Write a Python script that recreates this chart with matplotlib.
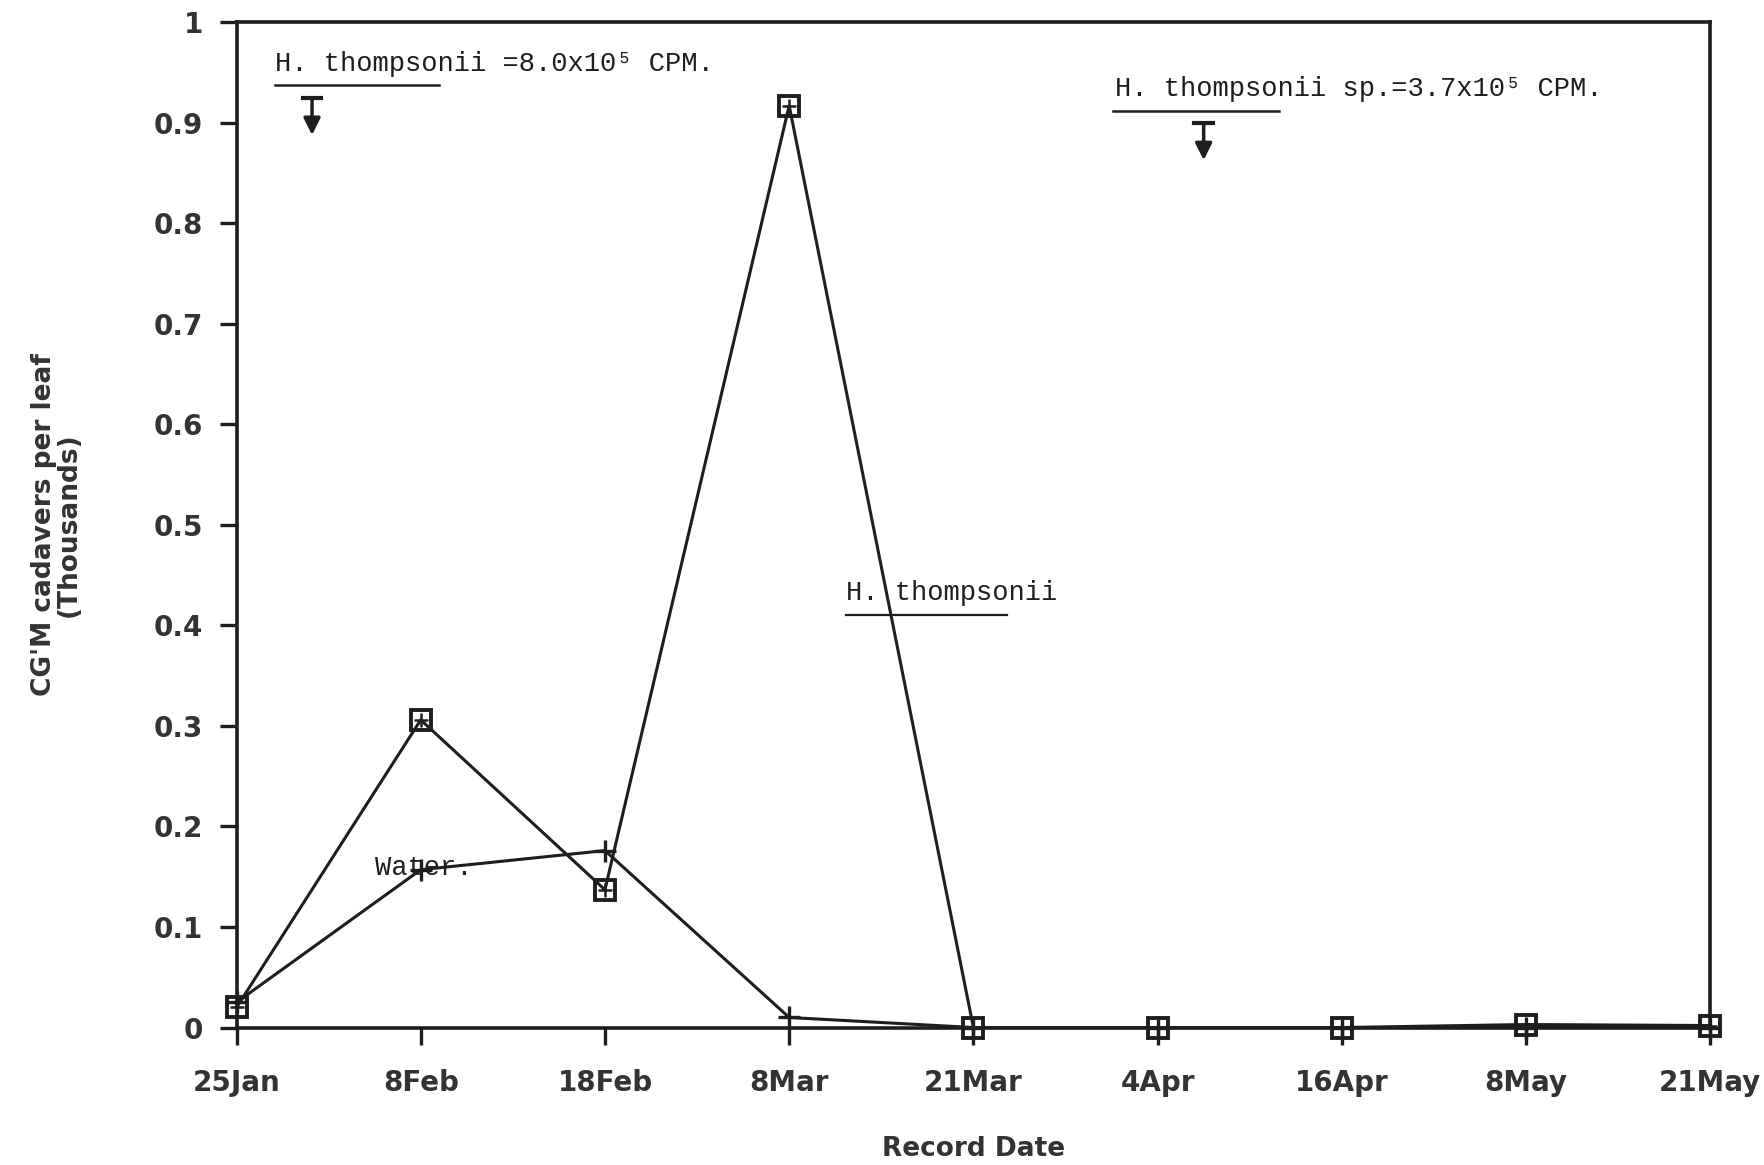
import matplotlib
matplotlib.use('Agg')
import matplotlib.pyplot as plt

# data
dates = ['25Jan', '8Feb', '18Feb', '8Mar', '21Mar', '4Apr', '16Apr', '8May', '21May']
thompsonii = [0.020, 0.306, 0.137, 0.917, 0.000, 0.000, 0.000, 0.003, 0.002]
water = [0.025, 0.157, 0.176, 0.010, 0.000, 0.000, 0.000, 0.000, 0.000]
yticks = [0, 0.1, 0.2, 0.3, 0.4, 0.5, 0.6, 0.7, 0.8, 0.9, 1]
ylabels = ['0', '0.1', '0.2', '0.3', '0.4', '0.5', '0.6', '0.7', '0.8', '0.9', '1']

ink = '#1e1e1e'
mono = ['Liberation Mono', 'DejaVu Sans Mono']

fig = plt.figure(figsize=(17.65, 11.65), dpi=100)
ax = fig.add_axes([0.134, 0.118, 0.835, 0.863])

x = list(range(len(dates)))
ax.plot(x, water, color=ink, lw=2.2, marker='+', ms=16, mew=2.4, clip_on=False)
ax.plot(x, thompsonii, color=ink, lw=2.2, marker='s', ms=15, mfc='none', mew=2.8, clip_on=False)
# small cross inside the square markers
ax.plot(x, thompsonii, ls='none', color=ink, marker='+', ms=10, mew=1.8, clip_on=False)

ax.set_xlim(0, len(dates) - 1)
ax.set_ylim(0, 1)
ax.set_xticks(x)
ax.set_xticklabels(dates)
ax.set_yticks(yticks)
ax.set_yticklabels(ylabels)
for s in ax.spines.values():
    s.set_linewidth(2.6)
    s.set_color(ink)
ax.tick_params(direction='out', length=12, width=2.4, colors=ink, pad=12)
ax.tick_params(axis='x', pad=18)
for lab in ax.get_xticklabels() + ax.get_yticklabels():
    lab.set_fontsize(20)
    lab.set_fontweight('bold')
    lab.set_color('#333333')

ax.set_xlabel('Record Date', fontsize=19, fontweight='bold', color='#333333', labelpad=28)
ax.set_ylabel("CG'M cadavers per leaf\n(Thousands)", fontsize=19, fontweight='bold',
              color='#333333', labelpad=52, linespacing=0.9)

# typed annotations
ax.text(0.21, 0.958, 'H. thompsonii =8.0x10\u2075 CPM.', family=mono, fontsize=19.5, color=ink, va='center')
ax.plot([0.21, 1.10], [0.937, 0.937], color=ink, lw=1.8)
ax.text(4.77, 0.933, 'H. thompsonii sp.=3.7x10\u2075 CPM.', family=mono, fontsize=19.5, color=ink, va='center')
ax.plot([4.76, 5.66], [0.912, 0.912], color=ink, lw=1.8)
ax.text(3.31, 0.432, 'H. thompsonii', family=mono, fontsize=19.5, color=ink, va='center')
ax.plot([3.31, 4.18], [0.41, 0.41], color=ink, lw=1.6)
ax.text(0.75, 0.159, 'Water.', family=mono, fontsize=19.5, color=ink, va='center')

# downward arrows with bar on top
for ax_x, y0, y1 in [(0.41, 0.925, 0.885), (5.25, 0.9, 0.86)]:
    ax.annotate('', xy=(ax_x, y1), xytext=(ax_x, y0),
                arrowprops=dict(arrowstyle='-|>', color=ink, lw=2.5, mutation_scale=25))
    ax.plot([ax_x - 0.05, ax_x + 0.05], [y0, y0], color=ink, lw=3)

fig.savefig('out.png', dpi=100)
